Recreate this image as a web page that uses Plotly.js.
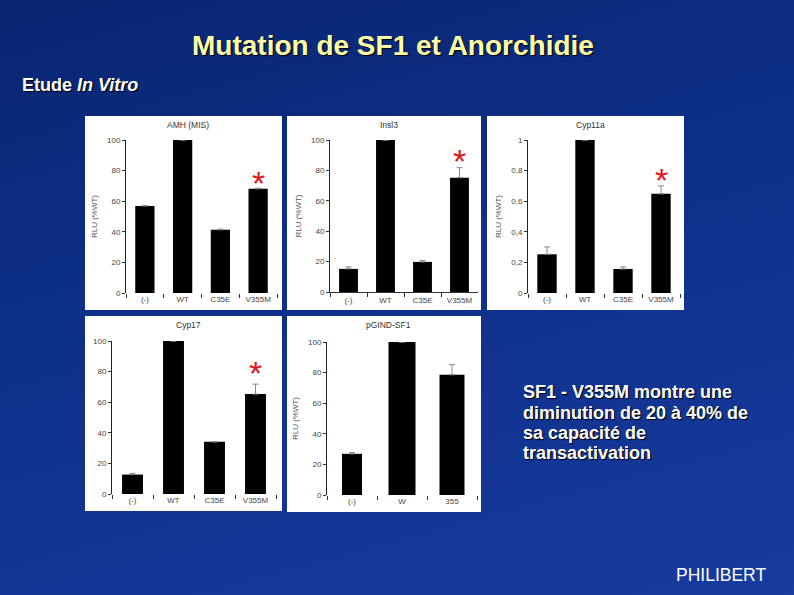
<!DOCTYPE html>
<html>
<head>
<meta charset="utf-8">
<script src="https://cdn.plot.ly/plotly-3.0.1.min.js"></script>
<style>
  html, body { margin: 0; padding: 0; }
  #chart { width: 794px; height: 595px;
    background: linear-gradient(165deg, #0a2672 0%, #0e308a 45%, #173b9f 100%); }
</style>
</head>
<body>
<div id="chart"></div>
<script>
// ---- data ----
const cats4 = ['(-)', 'WT', 'C35E', 'V355M'];
const cats3 = ['(-)', 'W', '355'];
const amhVals = [56.8, 100, 41.3, 68.1];
const amhErr = [0.4, 0, 0.4, 0.4];
const insl3Vals = [15.2, 100, 19.8, 75.2];
const insl3Err = [1.3, 0, 1.0, 6.6];
const cyp11aVals = [0.253, 1.0, 0.157, 0.648];
const cyp11aErr = [0.048, 0, 0.013, 0.052];
const cyp17Vals = [12.7, 100, 34.1, 65.3];
const cyp17Err = [0.8, 0, 0, 6.5];
const pgindVals = [26.9, 100, 78.6];
const pgindErr = [0.8, 0, 6.6];
const panelTitles = ['AMH (MIS)', 'Insl3', 'Cyp11a', 'Cyp17', 'pGIND-SF1'];
const yTitle = 'RLU (%WT)';
const starredCat = 'V355M';
const noteLines = ['SF1 - V355M montre une', 'diminution de 20 à 40% de', 'sa capacité de', 'transactivation'];

// ---- geometry helpers (pixels -> paper) ----
const W = 794, H = 595;
const px = v => v / W;
const py = v => 1 - v / H;

const panels = [
  {vals: amhVals, err: amhErr, cats: cats4, box: [85, 116, 282, 310], xd: [126, 277], yd: [140, 293], range: [0, 100], dtick: 20, ytitle: true, line: false, star: true, starShift: -6},
  {vals: insl3Vals, err: insl3Err, cats: cats4, box: [287, 116, 481, 310], xd: [330, 478], yd: [140, 292], range: [0, 100], dtick: 20, ytitle: true, line: true, star: true, starShift: -4},
  {vals: cyp11aVals, err: cyp11aErr, cats: cats4, box: [487, 116, 684, 310], xd: [528, 680], yd: [140, 293], range: [0, 1], dtick: 0.2, ytitle: true, line: false, star: true, starShift: -5},
  {vals: cyp17Vals, err: cyp17Err, cats: cats4, box: [85, 316, 282, 511], xd: [112, 276], yd: [341, 494], range: [0, 100], dtick: 20, ytitle: false, line: false, star: true, starShift: 0},
  {vals: pgindVals, err: pgindErr, cats: cats3, box: [287, 316, 481, 512], xd: [327, 477], yd: [342, 495], range: [0, 100], dtick: 20, ytitle: true, line: false, star: false, widths: [0.4, 0.54, 0.5]}
];

const FF = 'Liberation Sans, Arial, sans-serif';
const tickFont = {family: FF, size: 8, color: '#444'};
const traces = [];
const layout = {
  width: W, height: H, autosize: false,
  margin: {l: 0, r: 0, t: 0, b: 0, pad: 0},
  paper_bgcolor: 'rgba(0,0,0,0)',
  plot_bgcolor: 'rgba(0,0,0,0)',
  showlegend: false,
  bargap: 0.49,
  separators: ',.',
  shapes: [],
  annotations: []
};

panels.forEach((p, i) => {
  const n = i === 0 ? '' : String(i + 1);
  const xa = 'x' + n, ya = 'y' + n;
  const tr = {
    type: 'bar', x: p.cats, y: p.vals, xaxis: xa, yaxis: ya,
    marker: {color: '#000000', line: {width: 0}},
    error_y: {type: 'data', symmetric: false, array: p.err, arrayminus: p.err.map(() => 0),
              visible: true, color: '#888', thickness: 1, width: 3},
    hoverinfo: 'skip'
  };
  if (p.widths) tr.width = p.widths;
  traces.push(tr);

  layout['xaxis' + n] = {
    domain: [px(p.xd[0]), px(p.xd[1])], anchor: ya,
    range: [-0.5, p.cats.length - 0.5], type: 'category',
    showgrid: false, zeroline: false,
    showline: p.line, linecolor: '#333', linewidth: 1,
    ticks: 'outside', tickson: 'boundaries', ticklen: 4, tickcolor: '#333', tickwidth: 1,
    tickfont: tickFont, fixedrange: true
  };
  layout['yaxis' + n] = {
    domain: [py(p.yd[1]), py(p.yd[0])], anchor: xa,
    range: p.range, dtick: p.dtick, tick0: 0,
    showgrid: false, zeroline: false,
    showline: true, linecolor: '#222', linewidth: 1,
    ticks: 'outside', ticklen: 3, tickcolor: '#333', tickwidth: 1,
    tickfont: tickFont, fixedrange: true,
    title: p.ytitle ? {text: yTitle, font: {family: FF, size: 8, color: '#555'}, standoff: 8} : {text: ''}
  };

  layout.shapes.push({
    type: 'rect', xref: 'paper', yref: 'paper', layer: 'below',
    x0: px(p.box[0]), x1: px(p.box[2]), y0: py(p.box[3]), y1: py(p.box[1]),
    fillcolor: '#ffffff', line: {width: 0}
  });

  layout.annotations.push({
    xref: 'paper', yref: 'paper',
    x: (px(p.box[0]) + px(p.box[2])) / 2 + 0.006, y: py(p.box[1] + 9),
    xanchor: 'center', yanchor: 'middle', showarrow: false,
    text: panelTitles[i],
    font: {family: FF, size: 8.5, color: '#333'}
  });

  if (p.star) {
    const k = p.cats.indexOf(starredCat);
    const span = p.range[1] - p.range[0];
    layout.annotations.push({
      xref: xa, yref: ya, x: k, y: p.vals[k] + p.err[k] + 0.07 * span,
      xanchor: 'center', yanchor: 'middle', showarrow: false, yshift: p.starShift,
      text: '*',
      font: {family: FF, size: 34, color: '#e3141c'}
    });
  }
});

// slide texts
layout.annotations.push(
  {xref: 'paper', yref: 'paper', x: px(393), y: py(46), xanchor: 'center', yanchor: 'middle', showarrow: false,
   text: '<b>Mutation de SF1 et Anorchidie</b>',
   font: {family: FF, size: 28, color: '#ffffa6', shadow: '1px 1px 1px #000'}},
  {xref: 'paper', yref: 'paper', x: px(20), y: py(85), xanchor: 'left', yanchor: 'middle', showarrow: false,
   text: '<b>Etude <i>In Vitro</i></b>',
   font: {family: FF, size: 18, color: '#ffffff', shadow: '1px 1px 1px #000'}},
  {xref: 'paper', yref: 'paper', x: px(768), y: py(575), xanchor: 'right', yanchor: 'middle', showarrow: false,
   text: 'PHILIBERT',
   font: {family: FF, size: 17.5, color: '#ffffff'}}
);
const noteY = [392, 412.5, 432.5, 452.5];
noteLines.forEach((t, j) => {
  layout.annotations.push({
    xref: 'paper', yref: 'paper', x: px(521), y: py(noteY[j]), xanchor: 'left', yanchor: 'middle', showarrow: false,
    text: '<b>' + t + '</b>',
    font: {family: FF, size: 18, color: '#ffffff', shadow: '1px 1px 1px #000'}
  });
});

Plotly.newPlot('chart', traces, layout, {staticPlot: true, displayModeBar: false});
</script>
</body>
</html>
